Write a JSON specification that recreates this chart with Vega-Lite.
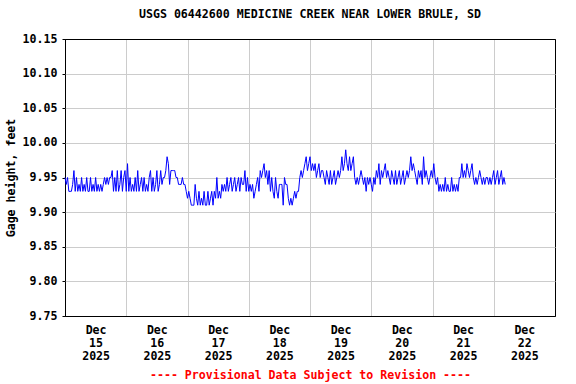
{
  "$schema": "https://vega.github.io/schema/vega-lite/v6.json",
  "width": 490,
  "height": 277,
  "autosize": {"type": "none"},
  "padding": {"left": 65, "top": 39, "right": 21, "bottom": 68},
  "background": "white",
  "config": {"view": {"stroke": "black", "strokeWidth": 1}, "font": "DejaVu Sans Mono"},
  "title": {"text": "USGS 06442600 MEDICINE CREEK NEAR LOWER BRULE, SD", "font": "DejaVu Sans Mono", "fontSize": 11.6, "fontWeight": "bold", "color": "black", "anchor": "middle", "offset": 12},
  "data": {"values": [
    {"t":"2025-12-15T00:00","v":9.95},{"t":"2025-12-15T00:30","v":9.94},{"t":"2025-12-15T01:00","v":9.95},{"t":"2025-12-15T01:30","v":9.93},
    {"t":"2025-12-15T02:00","v":9.93},{"t":"2025-12-15T02:30","v":9.93},{"t":"2025-12-15T03:00","v":9.94},{"t":"2025-12-15T03:30","v":9.96},
    {"t":"2025-12-15T04:00","v":9.93},{"t":"2025-12-15T04:30","v":9.95},{"t":"2025-12-15T05:00","v":9.93},{"t":"2025-12-15T05:30","v":9.94},
    {"t":"2025-12-15T06:00","v":9.93},{"t":"2025-12-15T06:30","v":9.95},{"t":"2025-12-15T07:00","v":9.93},{"t":"2025-12-15T07:30","v":9.94},
    {"t":"2025-12-15T08:00","v":9.93},{"t":"2025-12-15T08:30","v":9.95},{"t":"2025-12-15T09:00","v":9.93},{"t":"2025-12-15T09:30","v":9.93},
    {"t":"2025-12-15T10:00","v":9.95},{"t":"2025-12-15T10:30","v":9.93},{"t":"2025-12-15T11:00","v":9.94},{"t":"2025-12-15T11:30","v":9.93},
    {"t":"2025-12-15T12:00","v":9.95},{"t":"2025-12-15T12:30","v":9.93},{"t":"2025-12-15T13:00","v":9.94},{"t":"2025-12-15T13:30","v":9.93},
    {"t":"2025-12-15T14:00","v":9.94},{"t":"2025-12-15T14:30","v":9.93},{"t":"2025-12-15T15:00","v":9.94},{"t":"2025-12-15T15:30","v":9.95},
    {"t":"2025-12-15T16:00","v":9.94},{"t":"2025-12-15T16:30","v":9.95},{"t":"2025-12-15T17:00","v":9.94},{"t":"2025-12-15T17:30","v":9.95},
    {"t":"2025-12-15T18:00","v":9.95},{"t":"2025-12-15T18:30","v":9.96},{"t":"2025-12-15T19:00","v":9.93},{"t":"2025-12-15T19:30","v":9.95},
    {"t":"2025-12-15T20:00","v":9.93},{"t":"2025-12-15T20:30","v":9.96},{"t":"2025-12-15T21:00","v":9.93},{"t":"2025-12-15T21:30","v":9.94},
    {"t":"2025-12-15T22:00","v":9.96},{"t":"2025-12-15T22:30","v":9.93},{"t":"2025-12-15T23:00","v":9.95},{"t":"2025-12-15T23:30","v":9.96},

    {"t":"2025-12-16T00:00","v":9.93},{"t":"2025-12-16T00:30","v":9.97},{"t":"2025-12-16T01:00","v":9.93},{"t":"2025-12-16T01:30","v":9.95},
    {"t":"2025-12-16T02:00","v":9.93},{"t":"2025-12-16T02:30","v":9.94},{"t":"2025-12-16T03:00","v":9.93},{"t":"2025-12-16T03:30","v":9.95},
    {"t":"2025-12-16T04:00","v":9.93},{"t":"2025-12-16T04:30","v":9.96},{"t":"2025-12-16T05:00","v":9.93},{"t":"2025-12-16T05:30","v":9.94},
    {"t":"2025-12-16T06:00","v":9.95},{"t":"2025-12-16T06:30","v":9.93},{"t":"2025-12-16T07:00","v":9.95},{"t":"2025-12-16T07:30","v":9.93},
    {"t":"2025-12-16T08:00","v":9.94},{"t":"2025-12-16T08:30","v":9.93},{"t":"2025-12-16T09:00","v":9.95},{"t":"2025-12-16T09:30","v":9.96},
    {"t":"2025-12-16T10:00","v":9.93},{"t":"2025-12-16T10:30","v":9.95},{"t":"2025-12-16T11:00","v":9.93},{"t":"2025-12-16T11:30","v":9.94},
    {"t":"2025-12-16T12:00","v":9.96},{"t":"2025-12-16T12:30","v":9.93},{"t":"2025-12-16T13:00","v":9.94},{"t":"2025-12-16T13:30","v":9.96},
    {"t":"2025-12-16T14:00","v":9.94},{"t":"2025-12-16T14:30","v":9.95},{"t":"2025-12-16T15:00","v":9.95},{"t":"2025-12-16T15:30","v":9.96},
    {"t":"2025-12-16T16:00","v":9.98},{"t":"2025-12-16T16:30","v":9.97},{"t":"2025-12-16T17:00","v":9.94},{"t":"2025-12-16T17:30","v":9.96},
    {"t":"2025-12-16T18:00","v":9.96},{"t":"2025-12-16T18:30","v":9.96},{"t":"2025-12-16T19:00","v":9.96},{"t":"2025-12-16T19:30","v":9.95},
    {"t":"2025-12-16T20:00","v":9.95},{"t":"2025-12-16T20:30","v":9.94},{"t":"2025-12-16T21:00","v":9.94},{"t":"2025-12-16T21:30","v":9.94},
    {"t":"2025-12-16T22:00","v":9.95},{"t":"2025-12-16T22:30","v":9.94},{"t":"2025-12-16T23:00","v":9.94},{"t":"2025-12-16T23:30","v":9.93},

    {"t":"2025-12-17T00:00","v":9.92},{"t":"2025-12-17T00:30","v":9.93},{"t":"2025-12-17T01:00","v":9.92},{"t":"2025-12-17T01:30","v":9.91},
    {"t":"2025-12-17T02:00","v":9.91},{"t":"2025-12-17T02:30","v":9.91},{"t":"2025-12-17T03:00","v":9.94},{"t":"2025-12-17T03:30","v":9.92},
    {"t":"2025-12-17T04:00","v":9.91},{"t":"2025-12-17T04:30","v":9.93},{"t":"2025-12-17T05:00","v":9.91},{"t":"2025-12-17T05:30","v":9.92},
    {"t":"2025-12-17T06:00","v":9.91},{"t":"2025-12-17T06:30","v":9.93},{"t":"2025-12-17T07:00","v":9.91},{"t":"2025-12-17T07:30","v":9.91},
    {"t":"2025-12-17T08:00","v":9.93},{"t":"2025-12-17T08:30","v":9.91},{"t":"2025-12-17T09:00","v":9.92},{"t":"2025-12-17T09:30","v":9.93},
    {"t":"2025-12-17T10:00","v":9.91},{"t":"2025-12-17T10:30","v":9.93},{"t":"2025-12-17T11:00","v":9.92},{"t":"2025-12-17T11:30","v":9.95},
    {"t":"2025-12-17T12:00","v":9.92},{"t":"2025-12-17T12:30","v":9.93},{"t":"2025-12-17T13:00","v":9.92},{"t":"2025-12-17T13:30","v":9.94},
    {"t":"2025-12-17T14:00","v":9.93},{"t":"2025-12-17T14:30","v":9.94},{"t":"2025-12-17T15:00","v":9.93},{"t":"2025-12-17T15:30","v":9.95},
    {"t":"2025-12-17T16:00","v":9.93},{"t":"2025-12-17T16:30","v":9.94},{"t":"2025-12-17T17:00","v":9.95},{"t":"2025-12-17T17:30","v":9.93},
    {"t":"2025-12-17T18:00","v":9.94},{"t":"2025-12-17T18:30","v":9.95},{"t":"2025-12-17T19:00","v":9.93},{"t":"2025-12-17T19:30","v":9.94},
    {"t":"2025-12-17T20:00","v":9.95},{"t":"2025-12-17T20:30","v":9.93},{"t":"2025-12-17T21:00","v":9.95},{"t":"2025-12-17T21:30","v":9.94},
    {"t":"2025-12-17T22:00","v":9.94},{"t":"2025-12-17T22:30","v":9.96},{"t":"2025-12-17T23:00","v":9.93},{"t":"2025-12-17T23:30","v":9.95},

    {"t":"2025-12-18T00:00","v":9.93},{"t":"2025-12-18T00:30","v":9.94},{"t":"2025-12-18T01:00","v":9.93},{"t":"2025-12-18T01:30","v":9.94},
    {"t":"2025-12-18T02:00","v":9.92},{"t":"2025-12-18T02:30","v":9.93},{"t":"2025-12-18T03:00","v":9.94},{"t":"2025-12-18T03:30","v":9.95},
    {"t":"2025-12-18T04:00","v":9.93},{"t":"2025-12-18T04:30","v":9.96},{"t":"2025-12-18T05:00","v":9.95},{"t":"2025-12-18T05:30","v":9.96},
    {"t":"2025-12-18T06:00","v":9.97},{"t":"2025-12-18T06:30","v":9.95},{"t":"2025-12-18T07:00","v":9.96},{"t":"2025-12-18T07:30","v":9.94},
    {"t":"2025-12-18T08:00","v":9.96},{"t":"2025-12-18T08:30","v":9.93},{"t":"2025-12-18T09:00","v":9.95},{"t":"2025-12-18T09:30","v":9.93},
    {"t":"2025-12-18T10:00","v":9.92},{"t":"2025-12-18T10:30","v":9.95},{"t":"2025-12-18T11:00","v":9.93},{"t":"2025-12-18T11:30","v":9.92},
    {"t":"2025-12-18T12:00","v":9.94},{"t":"2025-12-18T12:30","v":9.94},{"t":"2025-12-18T13:00","v":9.94},{"t":"2025-12-18T13:30","v":9.91},
    {"t":"2025-12-18T14:00","v":9.95},{"t":"2025-12-18T14:30","v":9.94},{"t":"2025-12-18T15:00","v":9.94},{"t":"2025-12-18T15:30","v":9.92},
    {"t":"2025-12-18T16:00","v":9.91},{"t":"2025-12-18T16:30","v":9.92},{"t":"2025-12-18T17:00","v":9.91},{"t":"2025-12-18T17:30","v":9.92},
    {"t":"2025-12-18T18:00","v":9.93},{"t":"2025-12-18T18:30","v":9.92},{"t":"2025-12-18T19:00","v":9.93},{"t":"2025-12-18T19:30","v":9.93},
    {"t":"2025-12-18T20:00","v":9.95},{"t":"2025-12-18T20:30","v":9.96},{"t":"2025-12-18T21:00","v":9.95},{"t":"2025-12-18T21:30","v":9.96},
    {"t":"2025-12-18T22:00","v":9.97},{"t":"2025-12-18T22:30","v":9.98},{"t":"2025-12-18T23:00","v":9.96},{"t":"2025-12-18T23:30","v":9.97},

    {"t":"2025-12-19T00:00","v":9.98},{"t":"2025-12-19T00:30","v":9.96},{"t":"2025-12-19T01:00","v":9.97},{"t":"2025-12-19T01:30","v":9.96},
    {"t":"2025-12-19T02:00","v":9.97},{"t":"2025-12-19T02:30","v":9.95},{"t":"2025-12-19T03:00","v":9.96},{"t":"2025-12-19T03:30","v":9.97},
    {"t":"2025-12-19T04:00","v":9.95},{"t":"2025-12-19T04:30","v":9.96},{"t":"2025-12-19T05:00","v":9.96},{"t":"2025-12-19T05:30","v":9.95},
    {"t":"2025-12-19T06:00","v":9.94},{"t":"2025-12-19T06:30","v":9.96},{"t":"2025-12-19T07:00","v":9.95},{"t":"2025-12-19T07:30","v":9.94},
    {"t":"2025-12-19T08:00","v":9.96},{"t":"2025-12-19T08:30","v":9.94},{"t":"2025-12-19T09:00","v":9.95},{"t":"2025-12-19T09:30","v":9.96},
    {"t":"2025-12-19T10:00","v":9.94},{"t":"2025-12-19T10:30","v":9.95},{"t":"2025-12-19T11:00","v":9.96},{"t":"2025-12-19T11:30","v":9.95},
    {"t":"2025-12-19T12:00","v":9.96},{"t":"2025-12-19T12:30","v":9.98},{"t":"2025-12-19T13:00","v":9.96},{"t":"2025-12-19T13:30","v":9.97},
    {"t":"2025-12-19T14:00","v":9.99},{"t":"2025-12-19T14:30","v":9.97},{"t":"2025-12-19T15:00","v":9.96},{"t":"2025-12-19T15:30","v":9.98},
    {"t":"2025-12-19T16:00","v":9.96},{"t":"2025-12-19T16:30","v":9.97},{"t":"2025-12-19T17:00","v":9.98},{"t":"2025-12-19T17:30","v":9.95},
    {"t":"2025-12-19T18:00","v":9.94},{"t":"2025-12-19T18:30","v":9.95},{"t":"2025-12-19T19:00","v":9.94},{"t":"2025-12-19T19:30","v":9.95},
    {"t":"2025-12-19T20:00","v":9.96},{"t":"2025-12-19T20:30","v":9.95},{"t":"2025-12-19T21:00","v":9.94},{"t":"2025-12-19T21:30","v":9.95},
    {"t":"2025-12-19T22:00","v":9.93},{"t":"2025-12-19T22:30","v":9.95},{"t":"2025-12-19T23:00","v":9.94},{"t":"2025-12-19T23:30","v":9.95},

    {"t":"2025-12-20T00:00","v":9.94},{"t":"2025-12-20T00:30","v":9.93},{"t":"2025-12-20T01:00","v":9.95},{"t":"2025-12-20T01:30","v":9.94},
    {"t":"2025-12-20T02:00","v":9.96},{"t":"2025-12-20T02:30","v":9.95},{"t":"2025-12-20T03:00","v":9.97},{"t":"2025-12-20T03:30","v":9.94},
    {"t":"2025-12-20T04:00","v":9.96},{"t":"2025-12-20T04:30","v":9.95},{"t":"2025-12-20T05:00","v":9.96},{"t":"2025-12-20T05:30","v":9.97},
    {"t":"2025-12-20T06:00","v":9.95},{"t":"2025-12-20T06:30","v":9.96},{"t":"2025-12-20T07:00","v":9.95},{"t":"2025-12-20T07:30","v":9.94},
    {"t":"2025-12-20T08:00","v":9.96},{"t":"2025-12-20T08:30","v":9.95},{"t":"2025-12-20T09:00","v":9.94},{"t":"2025-12-20T09:30","v":9.96},
    {"t":"2025-12-20T10:00","v":9.94},{"t":"2025-12-20T10:30","v":9.95},{"t":"2025-12-20T11:00","v":9.96},{"t":"2025-12-20T11:30","v":9.94},
    {"t":"2025-12-20T12:00","v":9.95},{"t":"2025-12-20T12:30","v":9.96},{"t":"2025-12-20T13:00","v":9.94},{"t":"2025-12-20T13:30","v":9.95},
    {"t":"2025-12-20T14:00","v":9.96},{"t":"2025-12-20T14:30","v":9.95},{"t":"2025-12-20T15:00","v":9.96},{"t":"2025-12-20T15:30","v":9.98},
    {"t":"2025-12-20T16:00","v":9.96},{"t":"2025-12-20T16:30","v":9.97},{"t":"2025-12-20T17:00","v":9.96},{"t":"2025-12-20T17:30","v":9.95},
    {"t":"2025-12-20T18:00","v":9.94},{"t":"2025-12-20T18:30","v":9.96},{"t":"2025-12-20T19:00","v":9.95},{"t":"2025-12-20T19:30","v":9.96},
    {"t":"2025-12-20T20:00","v":9.94},{"t":"2025-12-20T20:30","v":9.98},{"t":"2025-12-20T21:00","v":9.95},{"t":"2025-12-20T21:30","v":9.96},
    {"t":"2025-12-20T22:00","v":9.95},{"t":"2025-12-20T22:30","v":9.94},{"t":"2025-12-20T23:00","v":9.95},{"t":"2025-12-20T23:30","v":9.96},

    {"t":"2025-12-21T00:00","v":9.95},{"t":"2025-12-21T00:30","v":9.97},{"t":"2025-12-21T01:00","v":9.95},{"t":"2025-12-21T01:30","v":9.94},
    {"t":"2025-12-21T02:00","v":9.95},{"t":"2025-12-21T02:30","v":9.93},{"t":"2025-12-21T03:00","v":9.94},{"t":"2025-12-21T03:30","v":9.93},
    {"t":"2025-12-21T04:00","v":9.94},{"t":"2025-12-21T04:30","v":9.93},{"t":"2025-12-21T05:00","v":9.95},{"t":"2025-12-21T05:30","v":9.93},
    {"t":"2025-12-21T06:00","v":9.94},{"t":"2025-12-21T06:30","v":9.93},{"t":"2025-12-21T07:00","v":9.93},{"t":"2025-12-21T07:30","v":9.95},
    {"t":"2025-12-21T08:00","v":9.93},{"t":"2025-12-21T08:30","v":9.94},{"t":"2025-12-21T09:00","v":9.93},{"t":"2025-12-21T09:30","v":9.94},
    {"t":"2025-12-21T10:00","v":9.93},{"t":"2025-12-21T10:30","v":9.95},{"t":"2025-12-21T11:00","v":9.95},{"t":"2025-12-21T11:30","v":9.97},
    {"t":"2025-12-21T12:00","v":9.95},{"t":"2025-12-21T12:30","v":9.96},{"t":"2025-12-21T13:00","v":9.95},{"t":"2025-12-21T13:30","v":9.97},
    {"t":"2025-12-21T14:00","v":9.96},{"t":"2025-12-21T14:30","v":9.95},{"t":"2025-12-21T15:00","v":9.96},{"t":"2025-12-21T15:30","v":9.97},
    {"t":"2025-12-21T16:00","v":9.95},{"t":"2025-12-21T16:30","v":9.94},{"t":"2025-12-21T17:00","v":9.95},{"t":"2025-12-21T17:30","v":9.94},
    {"t":"2025-12-21T18:00","v":9.95},{"t":"2025-12-21T18:30","v":9.96},{"t":"2025-12-21T19:00","v":9.95},{"t":"2025-12-21T19:30","v":9.94},
    {"t":"2025-12-21T20:00","v":9.95},{"t":"2025-12-21T20:30","v":9.94},{"t":"2025-12-21T21:00","v":9.95},{"t":"2025-12-21T21:30","v":9.95},
    {"t":"2025-12-21T22:00","v":9.94},{"t":"2025-12-21T22:30","v":9.95},{"t":"2025-12-21T23:00","v":9.94},{"t":"2025-12-21T23:30","v":9.95},

    {"t":"2025-12-22T00:00","v":9.96},{"t":"2025-12-22T00:30","v":9.94},{"t":"2025-12-22T01:00","v":9.95},{"t":"2025-12-22T01:30","v":9.96},
    {"t":"2025-12-22T02:00","v":9.94},{"t":"2025-12-22T02:30","v":9.95},{"t":"2025-12-22T03:00","v":9.96},{"t":"2025-12-22T03:30","v":9.94},
    {"t":"2025-12-22T04:00","v":9.95},{"t":"2025-12-22T04:30","v":9.94}
  ]},
  "mark": {"type": "line", "color": "#0000ff", "strokeWidth": 1},
  "encoding": {
    "x": {
      "field": "t", "type": "temporal",
      "scale": {"domain": [{"year": 2025, "month": 12, "date": 15}, {"year": 2025, "month": 12, "date": 23}]},
      "axis": {
        "values": [
          {"year": 2025, "month": 12, "date": 15}, {"year": 2025, "month": 12, "date": 16},
          {"year": 2025, "month": 12, "date": 17}, {"year": 2025, "month": 12, "date": 18},
          {"year": 2025, "month": 12, "date": 19}, {"year": 2025, "month": 12, "date": 20},
          {"year": 2025, "month": 12, "date": 21}, {"year": 2025, "month": 12, "date": 22}
        ],
        "labelExpr": "[timeFormat(datum.value, '%b'), timeFormat(datum.value, '%d'), timeFormat(datum.value, '%Y')]",
        "labelOffset": 30.6,
        "labelFlush": false,
        "labelOverlap": false,
        "labelAlign": "center",
        "labelBaseline": "top",
        "labelFont": "DejaVu Sans Mono",
        "labelFontSize": 11.6,
        "labelFontWeight": "bold",
        "labelColor": "black",
        "labelLineHeight": 13,
        "labelPadding": 8,
        "ticks": false,
        "domain": false,
        "grid": true,
        "gridColor": {"condition": {"test": "datum.index == 0", "value": "black"}, "value": "#cccccc"},
        "gridWidth": 1,
        "title": "---- Provisional Data Subject to Revision ----",
        "titleColor": "#ff0000",
        "titleFont": "DejaVu Sans Mono",
        "titleFontSize": 11.6,
        "titleFontWeight": "bold",
        "titlePadding": 8
      }
    },
    "y": {
      "field": "v", "type": "quantitative",
      "scale": {"domain": [9.75, 10.15], "nice": false, "zero": false},
      "axis": {
        "values": [9.75, 9.8, 9.85, 9.9, 9.95, 10.0, 10.05, 10.1, 10.15],
        "format": ".2f",
        "tickSize": 3,
        "tickColor": "black",
        "domain": false,
        "grid": true,
        "gridColor": {"condition": {"test": "datum.value > 10.14 || datum.value < 9.76", "value": "black"}, "value": "#cccccc"},
        "gridWidth": 1,
        "labelFont": "DejaVu Sans Mono",
        "labelFontSize": 11.6,
        "labelFontWeight": "bold",
        "labelColor": "black",
        "labelPadding": 5,
        "title": "Gage height, feet",
        "titleColor": "black",
        "titleFont": "DejaVu Sans Mono",
        "titleFontSize": 11.6,
        "titleFontWeight": "bold",
        "titlePadding": 6
      }
    }
  }
}
